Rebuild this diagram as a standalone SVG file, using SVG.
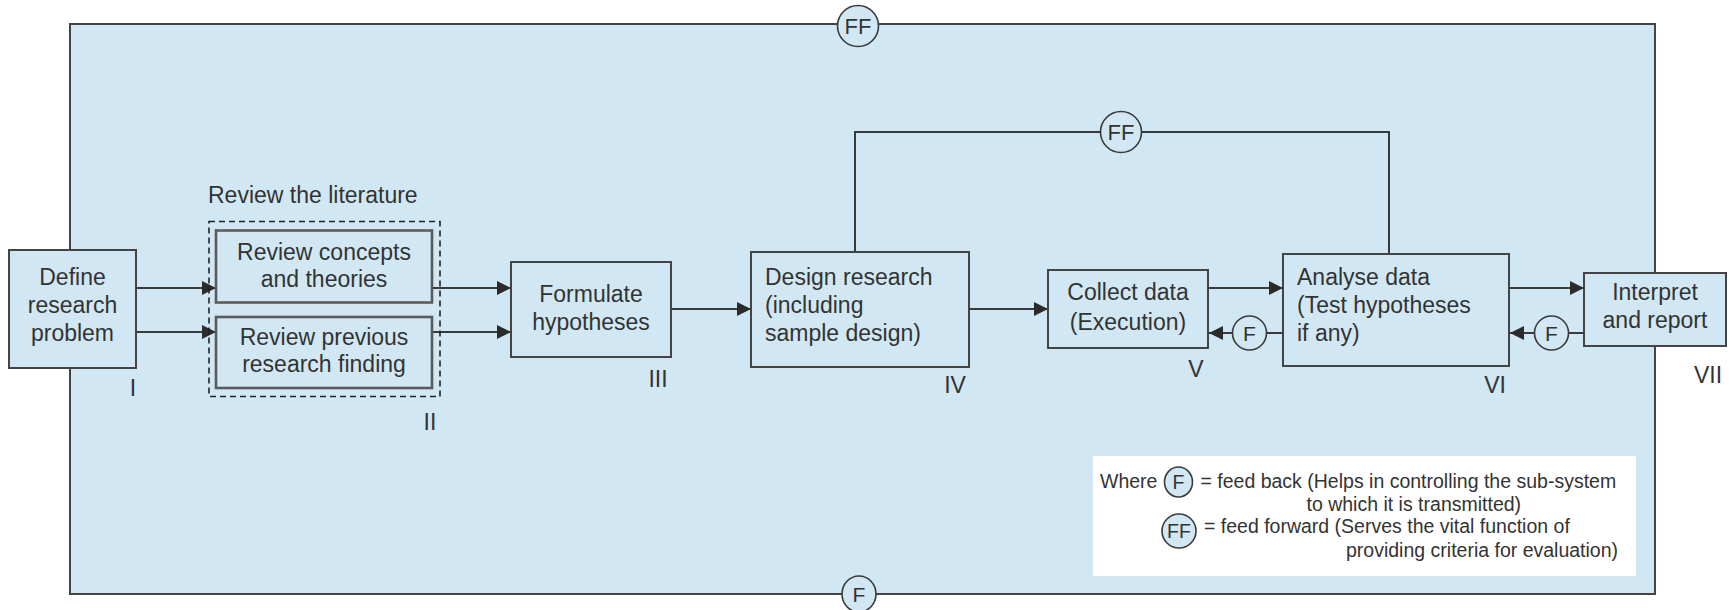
<svg xmlns="http://www.w3.org/2000/svg" width="1732" height="610" viewBox="0 0 1732 610">
<defs>
<marker id="arr" markerUnits="userSpaceOnUse" markerWidth="15" markerHeight="14" refX="14" refY="7" orient="auto">
<path d="M0,0 L14,7 L0,14 z" fill="#2b2b2b"/>
</marker>
<style>
text{font-family:"Liberation Sans",Arial,sans-serif;fill:#333;}
.t{font-size:23px;}
.c{text-anchor:middle;}
.lg{font-size:19.5px;}
.box{fill:#d1e8f4;stroke:#444;stroke-width:2;}
.rbox{fill:#d1e8f4;stroke:#5a5a5a;stroke-width:2.6;}
.ln{fill:none;stroke:#3a3a3a;stroke-width:2;}
.circ{fill:#d1e8f4;stroke:#3a3a3a;stroke-width:1.6;}
.ct{font-size:21px;text-anchor:middle;}
</style>
</defs>
<rect width="1732" height="610" fill="#ffffff"/>
<g id="frame">
<rect x="70" y="24" width="1585" height="570" fill="#d1e8f4" stroke="#444" stroke-width="2"/>
</g>
<g id="connectors">
<path class="ln" d="M136,288 H216" marker-end="url(#arr)"/>
<path class="ln" d="M136,332 H216" marker-end="url(#arr)"/>
<path class="ln" d="M432,288 H511" marker-end="url(#arr)"/>
<path class="ln" d="M432,332 H511" marker-end="url(#arr)"/>
<path class="ln" d="M671,309 H751" marker-end="url(#arr)"/>
<path class="ln" d="M969,309 H1048" marker-end="url(#arr)"/>
<path class="ln" d="M1208,288 H1283" marker-end="url(#arr)"/>
<path class="ln" d="M1509,288 H1584" marker-end="url(#arr)"/>
<path class="ln" d="M855,252 V132 H1389 V254"/>
<path class="ln" d="M1283,333 H1266"/>
<path class="ln" d="M1233,333 H1209" marker-end="url(#arr)"/>
<path class="ln" d="M1584,333 H1568"/>
<path class="ln" d="M1535,333 H1510" marker-end="url(#arr)"/>
</g>
<g id="ff-top">
<circle class="circ" cx="858" cy="26" r="20.5"/>
<text class="ct" x="858" y="34" style="font-size:22px">FF</text>
</g>
<g id="f-bottom">
<ellipse class="circ" cx="859" cy="594" rx="17" ry="18"/>
<text class="ct" x="859" y="602">F</text>
</g>
<g id="ff-mid">
<circle class="circ" cx="1121" cy="132" r="20.5"/>
<text class="ct" x="1121" y="140" style="font-size:22px">FF</text>
</g>
<g id="f-v">
<circle class="circ" cx="1249.5" cy="333" r="17"/>
<text class="ct" x="1249.5" y="341">F</text>
</g>
<g id="f-vi">
<circle class="circ" cx="1551.5" cy="333" r="17"/>
<text class="ct" x="1551.5" y="341">F</text>
</g>
<g id="node-I">
<rect class="box" x="9" y="250" width="127" height="118"/>
<text class="t c" x="72.5" y="285">Define</text>
<text class="t c" x="72.5" y="313">research</text>
<text class="t c" x="72.5" y="341">problem</text>
<text class="t c" x="133" y="396">I</text>
</g>
<g id="node-II">
<text class="t" x="208" y="203">Review the literature</text>
<rect x="209" y="221.5" width="231" height="175" fill="none" stroke="#222" stroke-width="1.6" stroke-dasharray="6,4"/>
<rect class="rbox" x="216" y="230.5" width="216" height="72"/>
<text class="t c" x="324" y="260">Review concepts</text>
<text class="t c" x="324" y="287">and theories</text>
<rect class="rbox" x="216" y="317" width="216" height="71"/>
<text class="t c" x="324" y="345">Review previous</text>
<text class="t c" x="324" y="372">research finding</text>
<text class="t c" x="430" y="430">II</text>
</g>
<g id="node-III">
<rect class="box" x="511" y="262" width="160" height="95"/>
<text class="t c" x="591" y="302">Formulate</text>
<text class="t c" x="591" y="330">hypotheses</text>
<text class="t c" x="658" y="387">III</text>
</g>
<g id="node-IV">
<rect class="box" x="751" y="252" width="218" height="115"/>
<text class="t" x="765" y="285">Design research</text>
<text class="t" x="765" y="313">(including</text>
<text class="t" x="765" y="341">sample design)</text>
<text class="t c" x="955" y="393">IV</text>
</g>
<g id="node-V">
<rect class="box" x="1048" y="270" width="160" height="78"/>
<text class="t c" x="1128" y="300">Collect data</text>
<text class="t c" x="1128" y="330">(Execution)</text>
<text class="t c" x="1196" y="377">V</text>
</g>
<g id="node-VI">
<rect class="box" x="1283" y="254" width="226" height="112"/>
<text class="t" x="1297" y="285">Analyse data</text>
<text class="t" x="1297" y="313">(Test hypotheses</text>
<text class="t" x="1297" y="341">if any)</text>
<text class="t c" x="1495" y="393">VI</text>
</g>
<g id="node-VII">
<rect class="box" x="1584" y="273" width="142" height="73"/>
<text class="t c" x="1655" y="300">Interpret</text>
<text class="t c" x="1655" y="328">and report</text>
<text class="t c" x="1708" y="383">VII</text>
</g>
<g id="legend">
<rect x="1093" y="456" width="543" height="120" fill="#ffffff"/>
<text class="lg" x="1100" y="488">Where</text>
<ellipse class="circ" cx="1178.5" cy="482" rx="14" ry="15"/>
<text class="lg" x="1178.5" y="489" text-anchor="middle">F</text>
<text class="lg" x="1200.5" y="488">= feed back (Helps in controlling the sub-system</text>
<text class="lg" x="1306.5" y="511">to which it is transmitted)</text>
<circle class="circ" cx="1179" cy="531" r="17"/>
<text class="lg" x="1179" y="538" text-anchor="middle">FF</text>
<text class="lg" x="1204" y="533">= feed forward (Serves the vital function of</text>
<text class="lg" x="1346" y="557">providing criteria for evaluation)</text>
</g>
</svg>
